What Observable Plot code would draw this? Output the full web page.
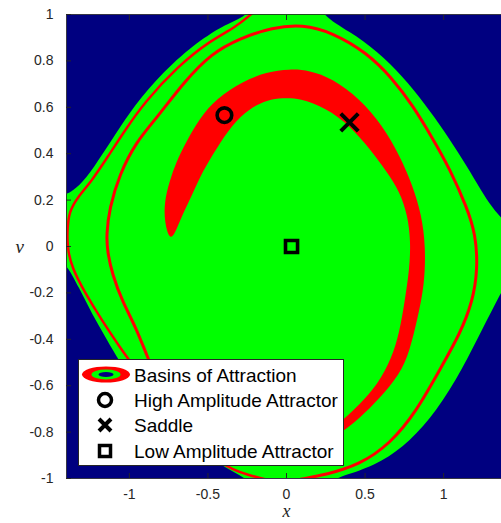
<!DOCTYPE html>
<html>
<head>
<meta charset="utf-8">
<script src="https://cdn.jsdelivr.net/npm/d3@7"></script>
<script src="https://cdn.jsdelivr.net/npm/@observablehq/plot@0.6"></script>
<style>
  html, body { margin: 0; padding: 0; background: #fff; overflow: hidden; }
  #wrap { position: relative; width: 501px; height: 523px; overflow: hidden; }
  #legend { position: absolute; left: 78px; top: 359px; }
</style>
</head>
<body>
<div id="wrap"></div>
<script>
// Outline of the green basin in the (x, v) phase plane (runs past the axes and is clipped).
const greenBasin = [
  [-0.20, 1.07], [-0.236, 0.998], [-0.376, 0.961], [-0.510, 0.909], [-0.726, 0.793],
  [-0.936, 0.638], [-1.057, 0.517], [-1.172, 0.397], [-1.274, 0.293], [-1.363, 0.237],
  [-1.405, 0.224], [-1.47, 0.22], [-1.47, -0.06], [-1.408, -0.065], [-1.318, -0.181],
  [-1.236, -0.293], [-1.146, -0.397], [-1.064, -0.496], [-0.924, -0.634], [-0.758, -0.763],
  [-0.567, -0.875], [-0.382, -0.957], [-0.236, -1.004], [-0.20, -1.07],
  [0.26, -1.07], [0.293, -1.0], [0.401, -0.983], [0.611, -0.927], [0.783, -0.841],
  [0.955, -0.711], [1.121, -0.526], [1.248, -0.353], [1.363, -0.203], [1.452, -0.086],
  [1.452, 0.065], [1.363, 0.125], [1.293, 0.181], [1.217, 0.267], [1.121, 0.375],
  [1.006, 0.496], [0.879, 0.616], [0.739, 0.733], [0.580, 0.841], [0.401, 0.927],
  [0.223, 0.996], [0.20, 1.07]
];

// Crescent-shaped red basin band: outer edge, then inner edge back to the tip.
const crescent = [
  [-0.745, 0.030], [-0.777, 0.108], [-0.777, 0.194], [-0.745, 0.280], [-0.701, 0.366],
  [-0.637, 0.453], [-0.554, 0.552], [-0.446, 0.638], [-0.280, 0.711], [-0.127, 0.752],
  [0.019, 0.765], [0.146, 0.760], [0.293, 0.724], [0.465, 0.638], [0.611, 0.522],
  [0.720, 0.392], [0.803, 0.263], [0.860, 0.134], [0.885, 0.000], [0.879, -0.164],
  [0.834, -0.310], [0.783, -0.453], [0.720, -0.552], [0.592, -0.655], [0.465, -0.741],
  [0.357, -0.797], [0.178, -0.884],
  [0.242, -0.819], [0.369, -0.741], [0.465, -0.681], [0.580, -0.595], [0.669, -0.483],
  [0.720, -0.366], [0.752, -0.237], [0.783, -0.095], [0.790, 0.022], [0.771, 0.134],
  [0.720, 0.237], [0.637, 0.323], [0.529, 0.422], [0.401, 0.522], [0.255, 0.595],
  [0.083, 0.640], [-0.025, 0.640], [-0.121, 0.632], [-0.236, 0.595], [-0.344, 0.526],
  [-0.446, 0.422], [-0.535, 0.323], [-0.599, 0.224], [-0.662, 0.138], [-0.713, 0.050]
];

// Thin red filament just inside the outer edge of the green basin (left side).
const ringOuter = [
  [-0.204, 1.013], [-0.325, 0.944], [-0.484, 0.888], [-0.694, 0.776], [-0.904, 0.621],
  [-1.025, 0.504], [-1.140, 0.384], [-1.242, 0.280], [-1.331, 0.211], [-1.382, 0.151],
  [-1.395, 0.078], [-1.395, -0.009], [-1.363, -0.095], [-1.287, -0.194], [-1.178, -0.315],
  [-1.064, -0.431], [-0.949, -0.539], [-0.713, -0.754], [-0.414, -0.948], [-0.236, -0.987],
  [-0.076, -1.013]
];

// Second red filament looping over the top and down the right side.
const ringInner = [
  [-0.554, -0.841], [-0.777, -0.647], [-0.892, -0.466], [-0.955, -0.353], [-1.045, -0.237],
  [-1.108, -0.121], [-1.140, -0.022], [-1.146, 0.052], [-1.127, 0.164], [-1.064, 0.310],
  [-0.955, 0.453], [-0.828, 0.552], [-0.650, 0.711], [-0.478, 0.832], [-0.299, 0.897],
  [-0.089, 0.944], [0.102, 0.957], [0.293, 0.922], [0.510, 0.836], [0.675, 0.724],
  [0.803, 0.608], [0.930, 0.466], [1.038, 0.336], [1.146, 0.172], [1.204, 0.052],
  [1.217, -0.095], [1.185, -0.237], [1.102, -0.379], [0.987, -0.517], [0.828, -0.711],
  [0.656, -0.853], [0.465, -0.940], [0.255, -0.983], [0.083, -1.004], [-0.045, -1.022]
];

// Fixed points of the map.
const pointNames = ["High Amplitude Attractor", "Saddle", "Low Amplitude Attractor"];
const pointX = [-0.395, 0.401, 0.032];
const pointV = [0.566, 0.535, 0.0];

const xTicks = [-1, -0.5, 0, 0.5, 1];
const vTicks = [-1, -0.8, -0.6, -0.4, -0.2, 0, 0.2, 0.4, 0.6, 0.8, 1];
const legendLabels = ["Basins of Attraction", "High Amplitude Attractor", "Saddle", "Low Amplitude Attractor"];

const NAVY = "#000080", GREEN = "#00ff00", RED = "#ff0000", AXIS = "#262626";

const rows = pts => pts.map(([x, v]) => ({x, v}));
const points = pointNames.map((name, i) => ({name, x: pointX[i], v: pointV[i]}));
const fmt = d => String(d);
const serif = "'Liberation Serif', 'DejaVu Serif', serif";

const chart = Plot.plot({
  width: 506,
  height: 523,
  marginLeft: 66,
  marginRight: 0,
  marginTop: 14,
  marginBottom: 45,
  x: {domain: [-1.4, 1.4]},
  y: {domain: [-1, 1]},
  style: {
    fontFamily: "'Liberation Sans', Arial, sans-serif",
    fontSize: "14px",
    color: AXIS,
    background: "white",
    maxWidth: "none",
    overflow: "visible"
  },
  marks: [
    Plot.frame({fill: NAVY, stroke: "none"}),
    Plot.line(rows(greenBasin), {x: "x", y: "v", fill: GREEN, stroke: "none", curve: "basis-closed", clip: true}),
    Plot.line(rows(crescent), {x: "x", y: "v", fill: RED, stroke: "none", curve: "basis-closed", clip: true}),
    Plot.line(rows(ringOuter), {x: "x", y: "v", stroke: RED, strokeWidth: 2.5, curve: "basis", clip: true}),
    Plot.line(rows(ringInner), {x: "x", y: "v", stroke: RED, strokeWidth: 3, curve: "basis", clip: true}),
    Plot.dot(points.filter(d => d.name === pointNames[0]), {x: "x", y: "v", symbol: "circle", r: 7.3, stroke: "black", strokeWidth: 3.6, fill: "none"}),
    Plot.dot(points.filter(d => d.name === pointNames[1]), {x: "x", y: "v", symbol: "times", r: 8, stroke: "black", strokeWidth: 4}),
    Plot.dot(points.filter(d => d.name === pointNames[2]), {x: "x", y: "v", symbol: "square", r: 6.8, stroke: "black", strokeWidth: 3.6, fill: "none"}),
    Plot.frame({stroke: AXIS, strokeWidth: 0.8}),
    Plot.axisX({ticks: xTicks, tickSize: 0, tickPadding: 11, tickFormat: fmt, label: null}),
    Plot.axisX({ticks: xTicks, tickSize: -5, text: null, label: null, stroke: AXIS}),
    Plot.axisX({anchor: "top", ticks: xTicks, tickSize: -5, text: null, label: null, stroke: AXIS}),
    Plot.axisY({ticks: vTicks, tickSize: 0, tickPadding: 13, tickFormat: fmt, label: null}),
    Plot.axisY({ticks: vTicks, tickSize: -5, text: null, label: null, stroke: AXIS}),
    Plot.text(["x"], {frameAnchor: "bottom", dy: 38.5, fontFamily: serif, fontStyle: "italic", fontSize: 18, fill: AXIS}),
    Plot.text(["v"], {frameAnchor: "left", dx: -51, fontFamily: serif, fontStyle: "italic", fontSize: 19, fill: AXIS})
  ]
});

const wrap = document.getElementById("wrap");
wrap.appendChild(chart);

// Legend box drawn over the lower-left of the axes.
const svgNS = "http://www.w3.org/2000/svg";
const lg = document.createElementNS(svgNS, "svg");
lg.setAttribute("id", "legend");
lg.setAttribute("width", 266);
lg.setAttribute("height", 108);
const el = (tag, attrs) => {
  const e = document.createElementNS(svgNS, tag);
  for (const k in attrs) e.setAttribute(k, attrs[k]);
  lg.appendChild(e);
  return e;
};
el("rect", {x: 0.5, y: 0.5, width: 265, height: 106, fill: "white", stroke: AXIS, "stroke-width": 1});
const rowY = [15.5, 41, 66, 92];
const iconX = 28;
el("ellipse", {cx: iconX, cy: rowY[0], rx: 24, ry: 8, fill: RED});
el("ellipse", {cx: iconX, cy: rowY[0], rx: 14.5, ry: 5, fill: GREEN});
el("ellipse", {cx: iconX, cy: rowY[0], rx: 7.5, ry: 2.6, fill: NAVY});
el("circle", {cx: iconX - 1, cy: rowY[1], r: 6.5, fill: "none", stroke: "black", "stroke-width": 3.5});
el("path", {d: `M${iconX - 7},${rowY[2] - 6}L${iconX + 5},${rowY[2] + 6}M${iconX + 5},${rowY[2] - 6}L${iconX - 7},${rowY[2] + 6}`, stroke: "black", "stroke-width": 4, fill: "none"});
el("rect", {x: iconX - 6.5, y: rowY[3] - 5.5, width: 11, height: 11, fill: "none", stroke: "black", "stroke-width": 3.5});
legendLabels.forEach((label, i) => {
  const t = el("text", {x: 56, y: rowY[i] + 7, "font-family": "'Liberation Sans', Arial, sans-serif", "font-size": "19px", fill: "black"});
  t.textContent = label;
});
wrap.appendChild(lg);
</script>
</body>
</html>
